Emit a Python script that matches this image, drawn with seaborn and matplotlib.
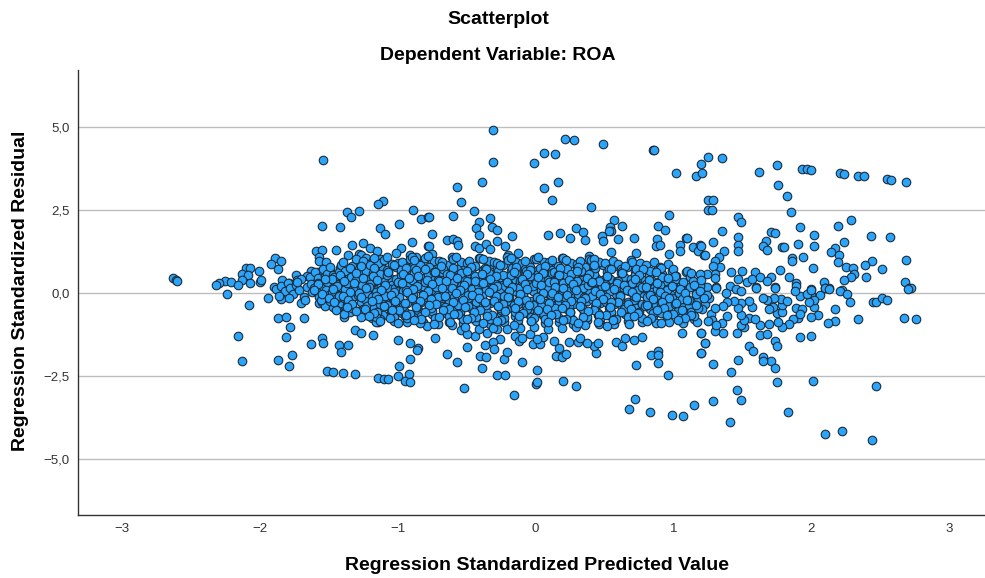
import pandas as pd
import seaborn as sns
import matplotlib.pyplot as plt

# Valores: puntos sueltos por encima de la banda central
upper_x = [-1.54,-1.11,-1.14,-1.28,-1.37,-1.34,-0.89,-0.83,-0.78,-1.55,-1.42,-1.13,-1.09,-0.99,-0.90,-1.33,-1.25,-1.59,-1.55,-1.45,-1.36,-1.20,-1.15,-0.98,-1.01,-0.78,
           -1.57,-1.57,-1.52,-1.49,-1.42,-1.28,-1.27,-1.23,-1.28,-1.21,-1.12,-1.12,-1.18,-0.91,-0.87,-0.91,-0.84,-0.97,-0.89,-0.78,
           -0.31,-0.31,-0.01,0.06,0.14,0.21,0.28,0.49,0.85,0.86,-0.39,-0.57,-0.54,0.06,0.16,0.12,0.40,1.02,1.16,1.21,1.20,1.25,
           -0.45,-0.60,-0.77,-0.41,-0.33,-0.43,-0.32,-0.28,-0.41,-0.75,-0.17,-0.28,-0.64,-0.60,-0.57,-0.56,-0.77,-0.44,-0.41,-0.36,-0.33,-0.22,-0.75,-0.13,-0.20,
           0.09,0.18,0.25,0.29,0.34,0.36,0.57,0.54,0.63,0.55,0.53,0.48,0.49,0.60,0.71,0.39,0.55,0.73,0.97,0.89,0.94,1.09,1.10,0.88,0.87,0.90,1.05,1.05,1.14,1.19,1.18,0.97,1.22,1.25,1.25,
           1.35,1.62,1.75,1.93,1.97,2.00,2.21,2.24,2.34,2.38,2.55,2.58,2.69,1.76,1.82,1.85,1.29,1.28,1.47,1.49,2.29,1.92,2.19,1.35,1.71,1.74,2.02,2.43,2.57,1.47,1.67,1.29,1.20,1.47,1.65,1.68,1.79,1.80,1.90,2.02,2.24,2.17,2.14,1.47,1.37,1.23,1.33,1.30,1.34,1.29,
           1.86,1.86,1.94,2.20,2.19,2.44,2.39,2.69,2.01,1.77,2.25,2.30,2.51,1.42,1.50,1.59,1.30,1.30,1.21,1.24,1.47,1.53,1.57,1.63,1.71,1.68,1.84,2.31,2.29,2.24,2.40,2.09,1.89,1.89,1.74,1.60,2.68,2.71,1.41,1.31,1.24,1.19,2.10,2.13,2.00,2.22]
upper_y = [3.99,2.76,2.67,2.46,2.43,2.28,2.49,2.22,2.28,2.01,1.98,1.95,1.77,2.07,1.53,1.44,1.50,1.26,1.29,1.29,1.14,1.35,1.26,1.35,1.20,1.41,
           1.08,0.96,0.93,0.69,0.75,1.17,1.14,1.05,0.87,0.78,0.87,1.02,0.99,1.14,1.08,0.96,0.87,0.78,0.81,0.78,
           4.89,3.93,3.90,4.20,4.17,4.62,4.59,4.47,4.29,4.29,3.33,3.18,2.73,3.15,3.33,2.79,2.58,3.60,3.51,3.60,3.87,4.08,
           2.46,2.31,2.28,2.13,2.25,1.95,1.98,1.89,1.74,1.77,1.71,1.56,1.59,1.62,1.56,1.44,1.41,1.41,1.35,1.47,1.32,1.41,1.17,1.20,1.14,
           1.74,1.80,1.65,1.95,1.83,1.59,2.19,1.98,2.01,1.86,1.86,1.71,1.56,1.62,1.65,1.11,1.23,1.20,2.34,2.01,1.89,1.65,1.66,1.62,1.41,1.44,1.44,1.26,1.38,1.44,1.26,1.17,1.14,2.49,2.79,
           4.05,3.63,3.84,3.72,3.72,3.69,3.60,3.57,3.51,3.51,3.42,3.39,3.33,3.24,2.91,2.43,2.79,2.49,2.28,2.13,2.19,1.98,2.01,1.86,1.83,1.80,1.74,1.71,1.68,1.68,1.56,1.53,1.41,1.44,1.41,1.29,1.38,1.37,1.47,1.41,1.53,1.35,1.23,1.26,1.26,1.14,1.08,0.96,0.78,0.81,
           1.05,0.96,1.08,1.14,0.93,0.96,0.84,0.99,0.75,0.69,0.78,0.75,0.72,0.63,0.66,0.63,0.57,0.45,0.54,0.57,0.42,0.33,0.42,0.48,0.48,0.36,0.48,0.57,0.48,0.39,0.48,0.33,0.30,0.21,0.18,0.18,0.33,0.15,0.21,0.18,0.18,0.21,0.15,0.15,0.12,0.09]

# Cola izquierda de la nube
left_x = [-1.89,-1.85,-1.92,-1.87,-2.10,-2.07,-2.01,-2.13,-2.09,-2.13,-2.25,-2.21,-2.30,-2.32,-2.16,-2.07,-2.00,-1.99,-2.63,-2.61,-2.60,
          -1.63,-1.58,-1.60,-1.66,-1.74,-1.73,-1.84,-1.79,-1.90,-1.51,-1.53,-1.62,-2.24,-2.08,-2.16,-2.13]
left_y = [1.05,0.96,0.87,0.72,0.75,0.75,0.66,0.57,0.54,0.39,0.36,0.33,0.30,0.24,0.24,0.30,0.33,0.39,0.45,0.39,0.36,
          0.66,0.63,0.57,0.51,0.54,0.39,0.39,0.30,0.18,0.36,0.33,0.24,-0.03,-0.36,-1.29,-2.04]

# Puntos sueltos por debajo de la banda
lower_x = [-1.87,-1.81,-1.78,-1.68,-1.81,-1.77,-1.87,-1.79,-1.63,-1.55,-1.54,-1.43,-1.36,-1.41,-1.51,-1.47,-1.40,-1.31,-1.31,-1.27,-1.18,-1.00,-0.91,-0.85,-0.86,-0.91,-0.99,-1.00,-0.92,-1.14,-1.10,-1.07,-0.95,-0.91,
           -1.94,-1.85,-1.70,-1.57,-1.52,-1.43,-1.38,-1.38,-1.39,-1.11,-1.04,-1.20,-1.19,-1.14,-1.16,-0.97,-0.91,-0.82,-0.79,
           -0.73,-0.64,-0.57,-0.50,-0.52,-0.39,-0.40,-0.36,-0.23,-0.21,-0.28,-0.22,-0.16,-0.10,0.01,0.00,0.01,0.20,0.29,0.15,0.19,0.22,0.17,-0.02,0.03,0.05,0.01,0.24,0.13,0.44,0.42,0.45,0.37,0.31,0.32,
           0.58,0.63,0.65,0.71,0.77,0.73,0.84,0.89,0.89,0.89,0.96,0.72,0.68,0.83,0.99,1.07,1.15,1.06,1.20,1.23,1.20,
           -0.26,-0.31,-0.30,-0.37,-0.35,-0.44,-0.54,-0.50,-0.28,-0.15,-0.12,-0.10,-0.04]
lower_y = [-0.75,-0.72,-1.02,-0.75,-1.32,-1.86,-2.01,-2.19,-1.53,-1.35,-1.50,-1.56,-1.56,-1.77,-2.34,-2.37,-2.40,-2.43,-1.11,-1.20,-1.26,-1.41,-1.50,-1.65,-1.71,-1.98,-2.19,-2.49,-2.43,-2.55,-2.58,-2.58,-2.64,-2.67,
           -0.15,-0.18,-0.30,-0.30,-0.33,-0.39,-0.39,-0.57,-0.72,-0.66,-0.72,-0.66,-0.75,-0.87,-0.87,-0.60,-0.66,-0.87,-0.99,
           -1.35,-1.83,-2.07,-1.62,-2.85,-2.25,-1.89,-1.92,-1.98,-1.77,-2.46,-2.46,-3.06,-2.07,-2.31,-2.73,-2.67,-2.64,-2.79,-1.89,-1.92,-1.83,-1.65,-1.53,-1.53,-1.32,-1.38,-1.47,-1.44,-1.80,-1.59,-1.50,-1.50,-1.47,-1.35,
           -1.47,-1.59,-1.35,-1.41,-1.32,-2.16,-1.86,-1.74,-1.86,-2.10,-2.46,-3.18,-3.48,-3.57,-3.66,-3.69,-3.36,-1.20,-1.20,-1.50,-1.80,
           -1.38,-1.47,-1.68,-1.56,-1.20,-1.29,-1.11,-1.23,-1.08,-1.29,-1.44,-1.35,-1.23]

# Zona derecha, por debajo de cero
right_x = [2.72,2.70,2.21,2.26,2.28,2.45,2.47,2.51,2.55,2.17,2.34,2.67,2.76,2.17,2.12,2.05,2.00,1.92,2.00,2.02,2.06,2.00,2.02,1.98,1.92,1.97,2.00,
           1.89,1.93,1.90,1.87,1.84,1.79,1.92,1.74,1.75,1.71,1.74,1.65,1.65,1.55,1.58,1.47,1.29,1.42,1.75,2.01,2.47,1.46,1.49,1.29,1.83,1.41,2.10,2.22,2.44,
           1.63,1.68,1.46,1.36,1.30,1.23,1.20,1.20,1.51,1.49,1.63,1.69,1.76,1.55,1.59,1.51,1.49,1.39,1.27,1.28,1.35,1.31,1.25,
           1.75,1.79,1.72,1.69,1.79,1.78,1.73,1.68,1.65,1.82,1.57,1.55,1.49,1.47,1.44,1.39,1.36,1.30,1.23,1.26,1.21,1.38,1.45,1.49,1.31,1.60,1.74,1.88,2.10,2.13]
right_y = [0.15,0.12,0.06,-0.03,-0.27,-0.27,-0.27,-0.15,-0.21,-0.48,-0.78,-0.75,-0.78,-0.84,-0.90,-0.66,-0.72,-1.32,-1.29,-0.42,-0.06,-0.06,-0.21,-0.27,-0.09,-0.03,0.09,
           -0.45,-0.48,-0.75,-0.78,-0.93,-1.02,-0.63,-1.44,-1.59,-2.04,-2.25,-1.92,-2.04,-1.59,-1.74,-2.01,-2.13,-2.37,-2.67,-2.64,-2.79,-2.91,-3.21,-3.24,-3.57,-3.87,-4.23,-4.14,-4.41,
           -1.26,-1.23,-1.20,-1.20,-1.14,-1.50,-1.80,-1.20,-1.02,-0.96,-0.96,-0.93,-0.87,-0.75,-0.78,-0.81,-0.66,-0.69,-0.63,-0.81,-0.90,-0.96,-0.84,
           -0.60,-0.57,-0.42,-0.48,-0.36,-0.18,-0.15,-0.21,-0.15,-0.24,-0.42,-0.24,-0.30,-0.45,-0.24,-0.27,-0.39,-0.45,-0.33,-0.15,-0.48,0.00,0.12,0.06,0.15,0.15,0.15,0.06,0.15,0.12]

# Banda central, estimada franja a franja
band_x = [-1.88,-1.85,-1.82,-1.80,-1.78,-1.76,-1.74,-1.72,-1.70,-1.68,-1.66,-1.64,-1.62,-1.86,-1.79,-1.73,-1.67,-1.63,
          -1.60,-1.58,-1.56,-1.59,-1.53,-1.57,-1.51,-1.55,-1.52,-1.54,-1.50,-1.58,-1.61,-1.53,-1.56,-1.51,
          -1.49,-1.47,-1.46,-1.44,-1.42,-1.41,-1.48,-1.45,-1.43,-1.47,-1.44,-1.41,-1.49,-1.46,-1.42,-1.45,-1.48,-1.43,
          -1.40,-1.38,-1.36,-1.34,-1.32,-1.39,-1.37,-1.35,-1.33,-1.31,-1.38,-1.36,-1.33,-1.40,-1.35,-1.32,-1.37,-1.34,-1.39,-1.31,
          -1.30,-1.28,-1.26,-1.24,-1.22,-1.29,-1.27,-1.25,-1.23,-1.21,-1.30,-1.27,-1.24,-1.22,-1.28,-1.25,-1.21,-1.29,-1.26,-1.23,-1.27,-1.22,
          -1.20,-1.18,-1.16,-1.14,-1.12,-1.19,-1.17,-1.15,-1.13,-1.11,-1.20,-1.16,-1.13,-1.18,-1.14,-1.11,-1.19,-1.15,-1.12,-1.17,-1.13,-1.16,
          -1.10,-1.08,-1.06,-1.04,-1.02,-1.09,-1.07,-1.05,-1.03,-1.01,-1.10,-1.06,-1.03,-1.08,-1.04,-1.01,-1.09,-1.05,-1.02,-1.07,-1.03,-1.06,-1.08,
          -1.00,-0.98,-0.96,-0.94,-0.92,-0.99,-0.97,-0.95,-0.93,-0.91,-1.00,-0.96,-0.93,-0.98,-0.94,-0.91,-0.99,-0.95,-0.92,-0.97,-0.93,-0.96,-0.98,-0.94,
          -0.90,-0.88,-0.86,-0.84,-0.82,-0.89,-0.87,-0.85,-0.83,-0.81,-0.90,-0.86,-0.83,-0.88,-0.84,-0.81,-0.89,-0.85,-0.82,-0.87,-0.83,-0.86,-0.88,-0.84,
          -0.80,-0.78,-0.76,-0.74,-0.72,-0.79,-0.77,-0.75,-0.73,-0.71,-0.80,-0.76,-0.73,-0.78,-0.74,-0.71,-0.79,-0.75,-0.72,-0.77,-0.73,-0.76,-0.78,-0.74,-0.71,
          -0.70,-0.68,-0.66,-0.64,-0.62,-0.69,-0.67,-0.65,-0.63,-0.61,-0.70,-0.66,-0.63,-0.68,-0.64,-0.61,-0.69,-0.65,-0.62,-0.67,-0.63,-0.66,-0.68,-0.64,-0.61,
          -0.60,-0.58,-0.56,-0.54,-0.52,-0.59,-0.57,-0.55,-0.53,-0.51,-0.60,-0.56,-0.53,-0.58,-0.54,-0.51,-0.59,-0.55,-0.52,-0.57,-0.53,-0.56,-0.58,-0.54,-0.51,
          -0.50,-0.48,-0.46,-0.44,-0.42,-0.49,-0.47,-0.45,-0.43,-0.41,-0.50,-0.46,-0.43,-0.48,-0.44,-0.41,-0.49,-0.45,-0.42,-0.47,-0.43,-0.46,-0.48,-0.44,-0.41,
          -0.40,-0.38,-0.36,-0.34,-0.32,-0.39,-0.37,-0.35,-0.33,-0.31,-0.40,-0.36,-0.33,-0.38,-0.34,-0.31,-0.39,-0.35,-0.32,-0.37,-0.33,-0.36,-0.38,-0.34,-0.31,
          -0.30,-0.28,-0.26,-0.24,-0.22,-0.29,-0.27,-0.25,-0.23,-0.21,-0.30,-0.26,-0.23,-0.28,-0.24,-0.21,-0.29,-0.25,-0.22,-0.27,-0.23,-0.26,-0.28,-0.24,-0.21,
          -0.20,-0.18,-0.16,-0.14,-0.12,-0.19,-0.17,-0.15,-0.13,-0.11,-0.20,-0.16,-0.13,-0.18,-0.14,-0.11,-0.19,-0.15,-0.12,-0.17,-0.13,-0.16,-0.18,-0.14,-0.11,
          -0.10,-0.08,-0.06,-0.04,-0.02,-0.09,-0.07,-0.05,-0.03,-0.01,-0.10,-0.06,-0.03,-0.08,-0.04,-0.01,-0.09,-0.05,-0.02,-0.07,-0.03,-0.06,-0.08,-0.04,-0.01,
          0.00,0.02,0.04,0.06,0.08,0.01,0.03,0.05,0.07,0.09,0.00,0.04,0.07,0.02,0.06,0.09,0.01,0.05,0.08,0.03,0.07,0.04,0.02,0.06,0.09,
          0.10,0.12,0.14,0.16,0.18,0.11,0.13,0.15,0.17,0.19,0.10,0.14,0.17,0.12,0.16,0.19,0.11,0.15,0.18,0.13,0.17,0.14,0.12,0.16,0.19,
          0.20,0.22,0.24,0.26,0.28,0.21,0.23,0.25,0.27,0.29,0.20,0.24,0.27,0.22,0.26,0.29,0.21,0.25,0.28,0.23,0.27,0.24,0.22,0.26,0.29,
          0.30,0.32,0.34,0.36,0.38,0.31,0.33,0.35,0.37,0.39,0.30,0.34,0.37,0.32,0.36,0.39,0.31,0.35,0.38,0.33,0.37,0.34,0.32,0.36,
          0.40,0.42,0.44,0.46,0.48,0.41,0.43,0.45,0.47,0.49,0.40,0.44,0.47,0.42,0.46,0.49,0.41,0.45,0.48,0.43,0.47,0.44,0.42,0.46,
          0.50,0.52,0.54,0.56,0.58,0.51,0.53,0.55,0.57,0.59,0.50,0.54,0.57,0.52,0.56,0.59,0.51,0.55,0.58,0.53,0.57,0.54,0.52,
          0.60,0.62,0.64,0.66,0.68,0.61,0.63,0.65,0.67,0.69,0.60,0.64,0.67,0.62,0.66,0.69,0.61,0.65,0.68,0.63,0.67,0.64,
          0.70,0.72,0.74,0.76,0.78,0.71,0.73,0.75,0.77,0.79,0.70,0.74,0.77,0.72,0.76,0.79,0.71,0.75,0.78,0.73,0.77,
          0.80,0.82,0.84,0.86,0.88,0.81,0.83,0.85,0.87,0.89,0.80,0.84,0.87,0.82,0.86,0.89,0.81,0.85,0.88,0.83,
          0.90,0.92,0.94,0.96,0.98,0.91,0.93,0.95,0.97,0.99,0.90,0.94,0.97,0.92,0.96,0.99,0.91,0.95,
          1.00,1.02,1.04,1.06,1.08,1.01,1.03,1.05,1.07,1.09,1.00,1.04,1.07,1.02,1.06,1.09,
          1.10,1.12,1.14,1.16,1.18,1.11,1.13,1.15,1.17,1.19,1.12,1.16,1.18,1.14,1.11,1.15]
band_y = [0.12,0.22,0.05,0.31,0.14,-0.02,0.24,0.09,0.42,-0.11,0.19,0.48,0.03,-0.08,-0.14,0.33,-0.22,0.28,
          0.62,0.44,0.21,0.05,0.52,-0.12,0.33,-0.27,0.08,0.71,-0.05,0.31,0.16,-0.38,-0.21,0.58,
          0.78,0.55,0.36,0.14,-0.04,-0.31,0.02,-0.17,0.63,-0.42,0.27,0.85,-0.23,0.47,0.19,-0.51,0.41,-0.09,
          0.92,0.66,0.43,0.22,0.03,-0.14,-0.35,-0.57,0.81,0.56,0.11,-0.24,-0.46,0.35,0.74,-0.08,0.29,0.49,-0.62,0.17,
          1.01,0.72,0.51,0.30,0.09,-0.07,-0.28,-0.49,-0.66,0.88,0.39,0.17,-0.18,-0.38,0.60,0.95,0.42,-0.55,0.23,0.67,-0.72,-0.01,
          0.84,0.61,0.37,0.13,-0.06,-0.25,-0.44,-0.67,-0.79,0.73,0.26,0.02,-0.33,0.50,0.91,0.44,-0.13,-0.56,0.20,1.05,0.58,-0.72,
          0.98,0.68,0.46,0.24,0.01,-0.19,-0.39,-0.61,-0.83,0.79,0.34,0.12,-0.28,0.55,0.87,0.41,-0.09,-0.50,0.16,0.64,-0.71,-0.36,1.07,
          0.89,0.63,0.40,0.18,-0.03,-0.22,-0.47,-0.69,-0.86,1.02,0.29,0.07,-0.31,0.53,0.76,0.47,-0.12,-0.58,0.25,0.94,-0.76,-0.40,0.69,0.10,
          1.09,0.74,0.52,0.28,0.06,-0.16,-0.37,-0.60,-0.81,0.92,0.38,0.15,-0.26,0.61,0.83,0.45,-0.07,-0.52,0.21,0.68,-0.68,-0.43,0.99,-0.90,
          1.04,0.70,0.48,0.23,0.02,-0.20,-0.41,-0.64,-0.85,0.87,0.33,0.10,-0.30,0.57,0.96,0.40,-0.11,-0.55,0.19,0.77,-0.74,-0.46,1.12,0.62,-0.93,
          0.97,0.75,0.50,0.27,0.04,-0.18,-0.38,-0.59,-0.88,1.08,0.36,0.13,-0.24,0.63,0.85,0.43,-0.08,-0.49,0.22,0.71,-0.70,-0.42,0.92,0.56,-0.97,
          1.03,0.66,0.44,0.20,-0.01,-0.23,-0.45,-0.67,-0.91,0.82,0.31,0.08,-0.33,0.54,0.94,0.39,-0.13,-0.56,0.16,0.73,-0.78,-0.36,1.07,0.60,-1.02,
          0.91,0.72,0.49,0.26,0.05,-0.15,-0.40,-0.62,-0.84,1.05,0.35,0.11,-0.27,0.59,0.80,0.42,-0.06,-0.53,0.23,0.67,-0.73,-0.47,0.97,0.52,-1.07,
          1.06,0.69,0.46,0.21,0.00,-0.21,-0.43,-0.65,-0.92,0.86,0.32,0.09,-0.29,0.56,0.95,0.38,-0.10,-0.57,0.17,0.76,-0.79,-0.37,1.01,0.61,-1.04,
          0.94,0.71,0.47,0.25,0.03,-0.17,-0.39,-0.61,-0.87,1.08,0.34,0.12,-0.26,0.58,0.83,0.41,-0.09,-0.51,0.20,0.65,-0.75,-0.44,0.89,0.53,-1.09,
          1.00,0.67,0.43,0.19,-0.02,-0.24,-0.46,-0.68,-0.95,0.81,0.30,0.07,-0.32,0.55,0.92,0.37,-0.12,-0.58,0.14,0.74,-0.80,-0.35,1.04,0.60,-1.06,
          0.90,0.73,0.50,0.28,0.06,-0.14,-0.41,-0.63,-0.83,1.03,0.36,0.13,-0.25,0.61,0.79,0.44,-0.05,-0.54,0.22,0.66,-0.72,-0.48,0.96,0.51,-1.02,
          1.02,0.68,0.45,0.22,0.01,-0.20,-0.44,-0.66,-0.90,0.85,0.31,0.10,-0.30,0.57,0.94,0.39,-0.11,-0.59,0.16,0.75,-0.77,-0.38,1.07,0.62,-1.08,
          0.93,0.70,0.48,0.24,0.04,-0.16,-0.38,-0.60,-0.86,1.06,0.33,0.11,-0.28,0.59,0.82,0.42,-0.07,-0.52,0.19,0.64,-0.74,-0.45,0.98,0.54,-1.05,
          1.05,0.65,0.42,0.18,-0.03,-0.25,-0.47,-0.69,-0.94,0.84,0.29,0.06,-0.34,0.53,0.91,0.36,-0.13,-0.57,0.15,0.73,-0.81,-0.39,1.00,0.58,-1.01,
          0.88,0.74,0.51,0.27,0.07,-0.13,-0.42,-0.64,-0.82,1.01,0.37,0.14,-0.24,0.62,0.78,0.45,-0.04,-0.55,0.23,0.67,-0.71,-0.49,0.95,-0.97,
          0.99,0.69,0.46,0.21,0.02,-0.19,-0.43,-0.65,-0.89,0.83,0.32,0.09,-0.31,0.56,0.93,0.40,-0.10,-0.60,0.17,0.76,-0.76,-0.36,1.03,-0.93,
          0.90,0.64,0.41,0.17,-0.04,-0.26,-0.46,-0.68,-0.92,0.80,0.28,0.05,-0.33,0.52,0.97,0.35,-0.12,-0.56,0.13,0.72,-0.79,-0.40,-0.99,
          0.86,0.73,0.49,0.25,0.05,-0.15,-0.41,-0.62,-0.84,0.98,0.35,0.12,-0.27,0.60,0.77,0.43,-0.06,-0.53,0.20,0.65,-0.72,-0.47,
          0.94,0.66,0.44,0.20,0.00,-0.22,-0.44,-0.66,-0.88,0.81,0.30,0.08,-0.32,0.55,0.89,0.38,-0.09,-0.58,0.15,0.72,-0.75,
          0.83,0.60,0.40,0.16,-0.05,-0.27,-0.48,-0.70,-0.90,0.74,0.26,0.04,-0.35,0.51,0.93,0.33,-0.13,-0.59,0.11,0.67,
          0.78,0.57,0.36,0.13,-0.07,-0.29,-0.50,-0.72,-0.86,0.67,0.24,0.02,-0.38,0.47,0.87,-0.15,-0.61,0.09,
          0.72,0.52,0.31,0.10,-0.10,-0.32,-0.53,-0.74,-0.91,0.62,0.21,-0.01,-0.41,0.42,-0.18,-0.64,
          0.66,0.47,0.27,0.06,-0.14,-0.36,-0.57,-0.77,-0.88,0.56,0.17,-0.04,-0.45,0.37,-0.22,-0.68]

# Segunda capa de la banda, estimada por filas horizontales
rows_x = [-1.27,-1.17,-1.03,-0.94,-0.80,-0.69,-0.60,-0.47,-0.36,-0.26,-0.14,-0.04,0.07,0.18,0.31,0.42,0.55,0.65,0.78,0.91,
          -1.42,-1.30,-1.18,-1.07,-0.96,-0.85,-0.73,-0.62,-0.50,-0.39,-0.29,-0.16,-0.06,0.05,0.17,0.30,0.39,0.52,0.63,0.75,0.87,1.01,1.13,
          -1.53,-1.39,-1.25,-1.15,-1.00,-0.92,-0.79,-0.65,-0.57,-0.44,-0.33,-0.21,-0.10,0.02,0.13,0.24,0.37,0.46,0.59,0.72,0.82,0.96,1.07,1.20,
          -1.58,-1.44,-1.32,-1.21,-1.09,-0.97,-0.86,-0.75,-0.61,-0.52,-0.38,-0.28,-0.17,-0.08,0.04,0.14,0.27,0.41,0.50,0.64,0.77,0.88,0.99,1.15,
          -1.61,-1.47,-1.35,-1.23,-1.12,-1.03,-0.89,-0.78,-0.68,-0.55,-0.42,-0.31,-0.19,-0.06,0.05,0.20,0.29,0.43,0.57,0.66,0.80,0.90,1.05,1.19,
          -1.55,-1.40,-1.28,-1.16,-1.05,-0.93,-0.82,-0.71,-0.58,-0.46,-0.34,-0.23,-0.11,0.01,0.12,0.23,0.35,0.47,0.61,0.70,0.83,0.94,1.08,1.24,
          -1.50,-1.36,-1.27,-1.14,-1.02,-0.90,-0.76,-0.66,-0.53,-0.41,-0.30,-0.20,-0.07,0.03,0.16,0.26,0.36,0.49,0.60,0.73,0.85,0.97,1.10,1.22,
          -1.46,-1.33,-1.19,-1.08,-0.95,-0.84,-0.72,-0.60,-0.49,-0.37,-0.24,-0.13,-0.02,0.10,0.21,0.33,0.44,0.55,0.67,0.79,0.92,1.02,1.16,
          -1.37,-1.24,-1.10,-0.99,-0.87,-0.77,-0.63,-0.51,-0.40,-0.27,-0.15,-0.05,0.08,0.19,0.32,0.42,0.54,0.69,0.81,0.93,1.06,
          -1.30,-1.17,-1.04,-0.91,-0.80,-0.67,-0.56,-0.45,-0.32,-0.22,-0.09,0.02,0.15,0.25,0.38,0.51,0.62,0.74,0.88,1.00,1.13,
          -1.21,-1.06,-0.94,-0.83,-0.70,-0.59,-0.47,-0.35,-0.25,-0.12,-0.01,0.11,0.22,0.34,0.46,0.58,0.71,0.84,0.95,1.08,
          -1.13,-1.00,-0.88,-0.74,-0.62,-0.50,-0.38,-0.28,-0.16,-0.03,0.09,0.20,0.31,0.45,0.56,0.68,0.81,0.91,1.03]
rows_y = [0.80,0.74,0.83,0.76,0.71,0.82,0.75,0.79,0.72,0.84,0.77,0.70,0.81,0.74,0.78,0.85,0.71,0.80,0.73,0.76,
          0.55,0.61,0.52,0.64,0.57,0.50,0.62,0.54,0.66,0.58,0.51,0.63,0.56,0.60,0.53,0.65,0.57,0.50,0.61,0.55,0.63,0.52,0.59,
          0.42,0.36,0.45,0.38,0.33,0.44,0.40,0.35,0.46,0.37,0.43,0.32,0.41,0.47,0.34,0.39,0.44,0.36,0.31,0.42,0.38,0.45,0.33,0.40,
          0.26,0.21,0.29,0.18,0.24,0.30,0.20,0.27,0.16,0.25,0.31,0.22,0.19,0.28,0.23,0.17,0.26,0.32,0.21,0.24,0.18,0.29,0.20,0.25,
          0.08,0.13,0.04,0.15,0.09,0.02,0.12,0.06,0.16,0.10,0.03,0.14,0.07,0.11,0.01,0.15,0.09,0.05,0.13,0.08,0.17,0.03,0.12,0.06,
          -0.02,-0.08,0.01,-0.10,-0.05,0.02,-0.07,-0.12,-0.01,-0.06,0.03,-0.09,-0.04,-0.11,0.00,-0.07,-0.13,-0.03,-0.08,0.02,-0.05,-0.10,-0.01,-0.06,
          -0.15,-0.21,-0.12,-0.19,-0.24,-0.14,-0.18,-0.10,-0.22,-0.16,-0.25,-0.13,-0.20,-0.17,-0.11,-0.23,-0.15,-0.19,-0.26,-0.12,-0.18,-0.14,-0.22,-0.16,
          -0.27,-0.33,-0.25,-0.36,-0.30,-0.24,-0.34,-0.28,-0.38,-0.26,-0.32,-0.23,-0.35,-0.29,-0.37,-0.25,-0.31,-0.27,-0.34,-0.39,-0.26,-0.30,-0.36,
          -0.41,-0.47,-0.38,-0.50,-0.43,-0.37,-0.48,-0.42,-0.52,-0.40,-0.46,-0.36,-0.49,-0.44,-0.39,-0.51,-0.42,-0.47,-0.37,-0.45,-0.50,
          -0.55,-0.61,-0.52,-0.64,-0.57,-0.50,-0.62,-0.56,-0.66,-0.54,-0.60,-0.51,-0.63,-0.58,-0.53,-0.65,-0.56,-0.60,-0.52,-0.62,-0.67,
          -0.69,-0.75,-0.66,-0.78,-0.71,-0.64,-0.76,-0.70,-0.80,-0.68,-0.74,-0.65,-0.77,-0.72,-0.67,-0.79,-0.70,-0.74,-0.66,-0.76,
          -0.84,-0.89,-0.81,-0.92,-0.86,-0.79,-0.90,-0.85,-0.95,-0.83,-0.88,-0.80,-0.91,-0.87,-0.82,-0.93,-0.84,-0.89,-0.80]

series_x = upper_x + left_x + lower_x + right_x + band_x + rows_x
series_y = upper_y + left_y + lower_y + right_y + band_y + rows_y
df = pd.DataFrame({'predicted': series_x, 'residual': series_y})

y_ticks = [-5.0, -2.5, 0.0, 2.5, 5.0]
y_tick_labels = ['\u22125,0', '\u22122,5', '0,0', '2,5', '5,0']
x_ticks = [-3, -2, -1, 0, 1, 2, 3]
x_tick_labels = ['\u22123', '\u22122', '\u22121', '0', '1', '2', '3']

sns.set_style('white')
plt.rcParams['font.family'] = ['Liberation Sans', 'DejaVu Sans']

fig = plt.figure(figsize=(9.85, 5.78), dpi=100)
ax = fig.add_axes([78 / 985, 63 / 578, 907 / 985, 445 / 578])

ax.set_axisbelow(True)
ax.yaxis.grid(True, color='#bdbdbd', linewidth=1.0)
ax.xaxis.grid(False)

sns.scatterplot(x='predicted', y='residual', data=df, ax=ax, s=38, color='#2aa5fb',
                edgecolor='#1c2c3a', linewidth=0.8, zorder=3, legend=False, clip_on=False)

ax.set_xlim(-3.32, 3.26)
ax.set_ylim(-6.67, 6.70)
ax.set_xticks(x_ticks)
ax.set_xticklabels(x_tick_labels, fontsize=9.5, color='#333333')
ax.set_yticks(y_ticks)
ax.set_yticklabels(y_tick_labels, fontsize=9.5, color='#333333')
ax.set_xlabel('')
ax.set_ylabel('')
ax.tick_params(axis='both', length=0, pad=6)

sns.despine(ax=ax)
for side in ['left', 'bottom']:
    ax.spines[side].set_color('#333333')
    ax.spines[side].set_linewidth(1.0)

fig.text(498 / 985, 1 - 20 / 578, 'Scatterplot', ha='center', va='center', fontsize=14, fontweight='bold', color='black')
fig.text(498 / 985, 1 - 56 / 578, 'Dependent Variable: ROA', ha='center', va='center', fontsize=14, fontweight='bold', color='black')
fig.text(537 / 985, 1 - 565 / 578, 'Regression Standardized Predicted Value', ha='center', va='center', fontsize=14, fontweight='bold', color='black')
fig.text(21 / 985, 1 - 291 / 578, 'Regression Standardized Residual', ha='center', va='center', rotation=90, fontsize=14, fontweight='bold', color='black')

fig.savefig('out.png', dpi=100)
